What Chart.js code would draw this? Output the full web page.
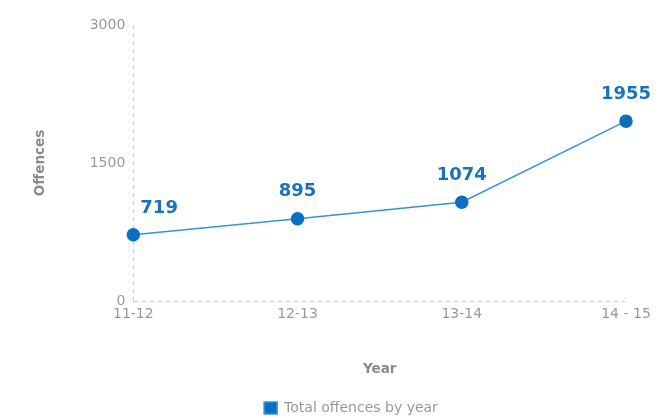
<!DOCTYPE html>
<html>
<head>
<meta charset="utf-8">
<script src="https://cdn.jsdelivr.net/npm/chart.js@4"></script>
<style>
html,body{margin:0;padding:0;background:#fff;}
#wrap{width:662px;height:418px;}
</style>
</head>
<body>
<div id="wrap"><canvas id="c" width="662" height="418"></canvas></div>
<script>
const categories = ["11-12", "12-13", "13-14", "14 - 15"];
const offences = [719, 895, 1074, 1955];
const seriesName = "Total offences by year";
const yTicks = [0, 1500, 3000];

const axisLinePlugin = {
  id: 'dashedAxes',
  afterLayout(chart) {
    const l = chart.legend;
    if (l) { l.left += 38; l.right += 38; }
  },
  beforeDatasetsDraw(chart) {
    const ctx = chart.ctx;
    const a = chart.chartArea;
    ctx.save();
    ctx.strokeStyle = '#cccccc';
    ctx.lineWidth = 1;
    ctx.setLineDash([4, 4]);
    ctx.beginPath();
    ctx.moveTo(Math.round(a.left) + 0.5, a.top);
    ctx.lineTo(Math.round(a.left) + 0.5, a.bottom);
    ctx.moveTo(a.left, Math.round(a.bottom) + 0.5);
    ctx.lineTo(a.right, Math.round(a.bottom) + 0.5);
    ctx.stroke();
    ctx.restore();
  }
};

const labelPlugin = {
  id: 'valueLabels',
  afterDatasetsDraw(chart) {
    const ctx = chart.ctx;
    const meta = chart.getDatasetMeta(0);
    const area = chart.chartArea;
    ctx.save();
    ctx.font = 'bold 18px "DejaVu Sans"';
    ctx.fillStyle = '#1a72bf';
    ctx.textAlign = 'center';
    ctx.textBaseline = 'middle';
    meta.data.forEach((pt, i) => {
      const txt = String(chart.data.datasets[0].data[i]);
      const w = ctx.measureText(txt).width;
      let x = Math.max(pt.x, area.left + 7 + w / 2);
      ctx.fillText(txt, x, pt.y - 27);
    });
    ctx.restore();
  }
};

new Chart(document.getElementById('c'), {
  type: 'line',
  data: {
    labels: categories,
    datasets: [{
      label: seriesName,
      data: offences,
      borderColor: '#3a90da',
      backgroundColor: '#0b6fc0',
      pointBackgroundColor: '#0b6fc0',
      pointBorderColor: '#0b6fc0',
      pointRadius: 6,
      pointHoverRadius: 6,
      borderWidth: 1.5,
      tension: 0
    }]
  },
  options: {
    responsive: false,
    animation: false,
    layout: { padding: { left: 0, right: 36, top: 25, bottom: -7 } },
    plugins: {
      legend: {
        position: 'bottom',
        labels: {
          boxWidth: 13, boxHeight: 12, padding: 0,
          color: '#999', font: { family: '"DejaVu Sans"', size: 14 }
        }
      },
      tooltip: { enabled: false }
    },
    scales: {
      x: {
        offset: false,
        grid: { display: false, drawTicks: false },
        border: { display: false },
        ticks: { color: '#999', padding: 5, font: { family: '"DejaVu Sans"', size: 14 }, maxRotation: 0 },
        title: { display: true, text: 'Year', color: '#8a8a8a', font: { family: '"DejaVu Sans"', size: 13.5, weight: 'bold' }, padding: { top: 34, bottom: 23 } }
      },
      y: {
        min: 0, max: 3000,
        grid: { display: false, drawTicks: false },
        border: { display: false },
        afterBuildTicks(scale) { scale.ticks = yTicks.map(v => ({ value: v })); },
        ticks: { color: '#999', padding: 8, font: { family: '"DejaVu Sans"', size: 14 }, callback: v => String(v) },
        title: { display: true, text: 'Offences', color: '#8a8a8a', font: { family: '"DejaVu Sans"', size: 13.5, weight: 'bold' }, padding: { top: 32, bottom: 33.5 } }
      }
    }
  },
  plugins: [axisLinePlugin, labelPlugin]
});
</script>
</body>
</html>
